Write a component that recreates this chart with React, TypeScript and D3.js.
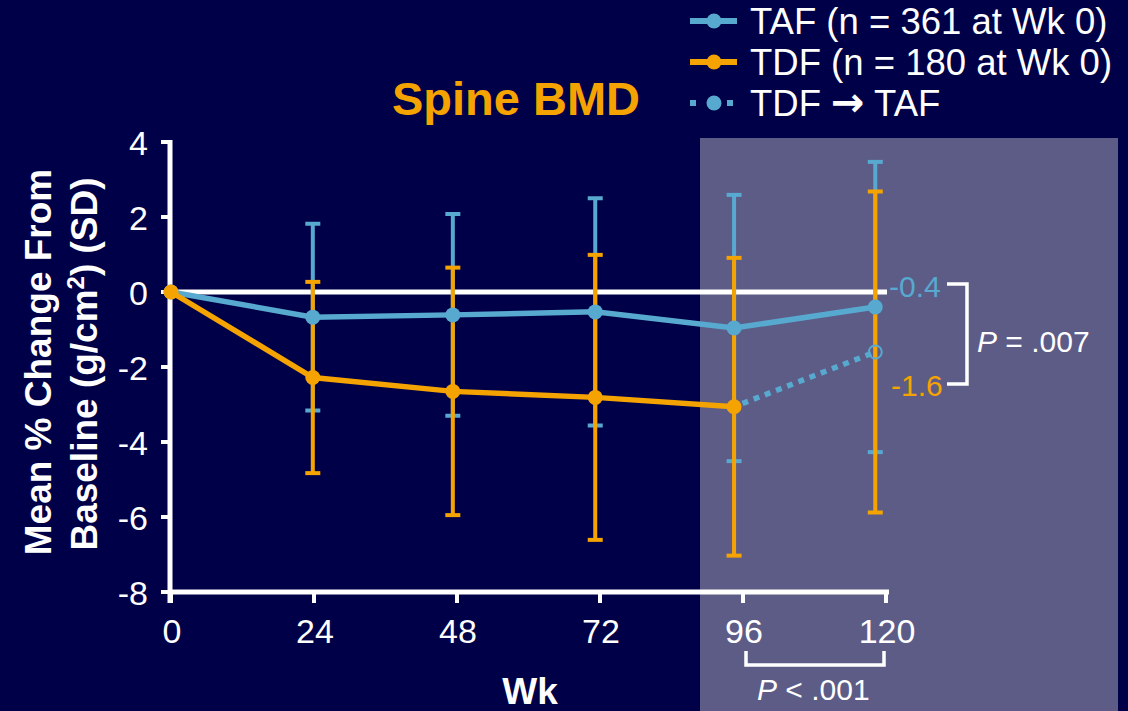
import React from "react";
import * as d3 from "d3";

// ---- data ----
const xTicks = [0, 24, 48, 72, 96, 120];
const yTicks = [4, 2, 0, -2, -4, -6, -8];
const weeks = [0, 23.8, 47.3, 71.2, 94.5, 118.2];
const tafMean = [0, -0.67, -0.61, -0.53, -0.96, -0.4];
const tafSD = [0, 2.49, 2.69, 3.03, 3.55, 3.87];
const tdfMean = [0, -2.28, -2.65, -2.81, -3.06];
const tdfSD = [0, 2.55, 3.3, 3.8, 3.97];
const switchWeek = [94.5, 118.2];
const switchMean = [-3.06, -1.6];
const switchSD = [0, 4.28];
const legendLabels = ["TAF (n = 361 at Wk 0)", "TDF (n = 180 at Wk 0)", "TDF \u2192 TAF"];
const endLabels = ["-0.4", "-1.6"];
const pWk120 = ".007";
const p96vs120 = ".001";

const W = 1128;
const H = 711;
const BG = "#000048";
const SHADE = "#5C5C87";
const BLUE = "#58A9CF";
const ORANGE = "#F5A300";
const FONT = "'Liberation Sans', Arial, sans-serif";

export default function App() {
  const x = d3.scaleLinear().domain([0, 120]).range([171, 886]);
  const y = d3.scaleLinear().domain([-8, 4]).range([592, 142]);

  const line = d3
    .line<[number, number]>()
    .x((d) => x(d[0]))
    .y((d) => y(d[1]));

  const tafPts: [number, number][] = weeks.map((w, i) => [w, tafMean[i]]);
  const tdfPts: [number, number][] = tdfMean.map((m, i) => [weeks[i], m]);
  const swPts: [number, number][] = switchWeek.map((w, i) => [w, switchMean[i]]);

  const capW = 7.5;
  const errBar = (w: number, m: number, sd: number, color: string, key: string) => {
    if (sd <= 0) return null;
    const cx = x(w);
    return (
      <g key={key} stroke={color} strokeWidth={4}>
        <line x1={cx} x2={cx} y1={y(m + sd)} y2={y(m - sd)} />
        <line x1={cx - capW} x2={cx + capW} y1={y(m + sd)} y2={y(m + sd)} />
        <line x1={cx - capW} x2={cx + capW} y1={y(m - sd)} y2={y(m - sd)} />
      </g>
    );
  };

  const legendY = [21, 62, 103];

  const renderLegendText = (lab: string) => {
    const parts = lab.split("\u2192");
    if (parts.length === 1) return lab;
    return (
      <>
        {parts[0]}
        <tspan fontFamily="'DejaVu Sans', sans-serif" fontWeight="bold" fontSize={40}>
          {"\u2192"}
        </tspan>
        {parts[1]}
      </>
    );
  };

  return (
    <svg
      width={W}
      height={H}
      style={{ position: "absolute", left: 0, top: 0, display: "block" }}
      fontFamily={FONT}
    >
      <rect x={0} y={0} width={W} height={H} fill={BG} />
      <rect x={700} y={138} width={418} height={H - 138} fill={SHADE} />

      {/* title */}
      <text x={516} y={115} textAnchor="middle" fill={ORANGE} fontSize={47} fontWeight="bold">
        Spine BMD
      </text>

      {/* legend */}
      {legendLabels.map((lab, i) => (
        <g key={lab}>
          <line
            x1={690}
            x2={i === 2 ? 733 : 737}
            y1={legendY[i]}
            y2={legendY[i]}
            stroke={i === 1 ? ORANGE : BLUE}
            strokeWidth={6}
            strokeDasharray={i === 2 ? "6 31" : undefined}
          />
          <circle cx={714} cy={legendY[i]} r={7.5} fill={i === 1 ? ORANGE : BLUE} />
          <text x={750} y={legendY[i] + 13} fill="#fff" fontSize={36.5}>
            {renderLegendText(lab)}
          </text>
        </g>
      ))}

      {/* y axis label */}
      <text
        transform={`translate(51,362) rotate(-90)`}
        textAnchor="middle"
        fill="#fff"
        fontSize={37}
        fontWeight="bold"
      >
        Mean % Change From
      </text>
      <text
        transform={`translate(97,364) rotate(-90)`}
        textAnchor="middle"
        fill="#fff"
        fontSize={37}
        fontWeight="bold"
      >
        Baseline (g/cm
        <tspan fontSize={24} dy={-13}>
          2
        </tspan>
        <tspan dy={13}>) (SD)</tspan>
      </text>

      {/* zero line */}
      <line x1={x(0)} x2={887} y1={y(0)} y2={y(0)} stroke="#fff" strokeWidth={5} />

      {/* axes */}
      <g stroke="#fff">
        <line x1={170} x2={170} y1={y(4) - 2} y2={y(-8) + 11} strokeWidth={5} />
        <line x1={168} x2={889} y1={y(-8)} y2={y(-8)} strokeWidth={5} />
        {yTicks.map((t) => (
          <line key={"yt" + t} x1={161} x2={170} y1={y(t)} y2={y(t)} strokeWidth={4} />
        ))}
        {xTicks.map((t) => (
          <line key={"xt" + t} x1={x(t)} x2={x(t)} y1={y(-8)} y2={y(-8) + 11} strokeWidth={4} />
        ))}
      </g>
      {yTicks.map((t) => (
        <text key={"yl" + t} x={148} y={y(t) + 12.5} textAnchor="end" fill="#fff" fontSize={34}>
          {t}
        </text>
      ))}
      {xTicks.map((t) => (
        <text key={"xl" + t} x={x(t) + 1} y={643} textAnchor="middle" fill="#fff" fontSize={34}>
          {t}
        </text>
      ))}
      <text x={530} y={704} textAnchor="middle" fill="#fff" fontSize={37} fontWeight="bold">
        Wk
      </text>

      {/* error bars */}
      {weeks.map((w, i) => errBar(w, tafMean[i], tafSD[i], BLUE, "eb-taf" + i))}
      {tdfMean.map((m, i) => errBar(weeks[i], m, tdfSD[i], ORANGE, "eb-tdf" + i))}
      {errBar(switchWeek[1], switchMean[1], switchSD[1], ORANGE, "eb-sw")}

      {/* TAF line */}
      <path d={line(tafPts) || ""} fill="none" stroke={BLUE} strokeWidth={5.5} />
      {tafPts.map((p, i) => (
        <circle key={"tp" + i} cx={x(p[0])} cy={y(p[1])} r={7.5} fill={BLUE} />
      ))}

      {/* TDF line */}
      <path d={line(tdfPts) || ""} fill="none" stroke={ORANGE} strokeWidth={5.5} />

      {/* switch dotted */}
      <path
        d={line(swPts) || ""}
        fill="none"
        stroke={BLUE}
        strokeWidth={5.5}
        strokeDasharray="6 6"
        strokeDashoffset={-9}
      />
      {tdfPts.map((p, i) => (
        <circle key={"dp" + i} cx={x(p[0])} cy={y(p[1])} r={7.5} fill={ORANGE} />
      ))}
      <circle
        cx={x(swPts[1][0])}
        cy={y(swPts[1][1])}
        r={6.5}
        fill="none"
        stroke={BLUE}
        strokeWidth={2}
      />

      {/* end labels and bracket */}
      <text x={889} y={297} fill={BLUE} fontSize={30}>
        {endLabels[0]}
      </text>
      <text x={891} y={396} fill={ORANGE} fontSize={30}>
        {endLabels[1]}
      </text>
      <path d="M947,284 H967 V384 H947" fill="none" stroke="#fff" strokeWidth={3.5} />
      <text x={977} y={352} fill="#fff" fontSize={30}>
        <tspan fontStyle="italic">P</tspan> = {pWk120}
      </text>

      <path d="M746,651 V665 H884 V651" fill="none" stroke="#fff" strokeWidth={3.5} />
      <text x={757} y={700} fill="#fff" fontSize={30}>
        <tspan fontStyle="italic">P</tspan> &lt; {p96vs120}
      </text>
    </svg>
  );
}
